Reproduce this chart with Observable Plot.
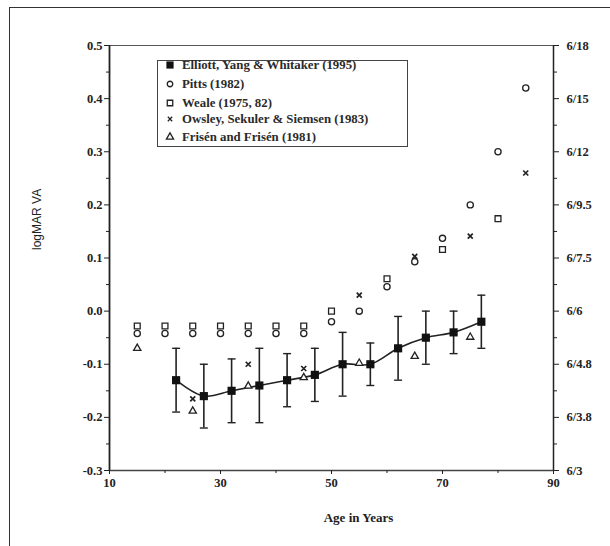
<!DOCTYPE html>
<html>
<head>
<meta charset="utf-8">
<script src="https://cdn.jsdelivr.net/npm/d3@7"></script>
<script src="https://cdn.jsdelivr.net/npm/@observablehq/plot@0.6"></script>
<style>
  html, body { margin: 0; padding: 0; background: #fff; }
  #wrap { position: relative; width: 610px; height: 546px; overflow: hidden; }
  #outer { position: absolute; left: 9px; top: 7px; width: 700px; height: 700px;
           border-left: 1.5px solid #333; border-top: 1.5px solid #333; }
  #chart { position: absolute; left: 0; top: 0; }
  #legend { position: absolute; left: 157px; top: 60px; width: 251px; height: 87px;
            border: 1.2px solid #444; box-sizing: border-box; background: #fff;
            font-family: "Liberation Serif", "DejaVu Serif", serif; font-size: 12.8px; font-weight: bold; color: #2a2a2a; }
  .row { position: absolute; left: 0; height: 16px; line-height: 16px; white-space: nowrap; }
  .row svg { position: absolute; left: 6px; top: 2px; }
  .row span { position: absolute; left: 24px; }
</style>
</head>
<body>
<div id="wrap">
  <div id="outer"></div>
  <div id="chart"></div>
  <div id="legend"></div>
</div>
<script>
// ---- data ----
const elliottAge = [22, 27, 32, 37, 42, 47, 52, 57, 62, 67, 72, 77];
const elliottVA  = [-0.13, -0.16, -0.15, -0.14, -0.13, -0.12, -0.10, -0.10, -0.07, -0.05, -0.04, -0.02];
const elliottLo  = [-0.19, -0.22, -0.21, -0.21, -0.18, -0.17, -0.16, -0.14, -0.13, -0.10, -0.08, -0.07];
const elliottHi  = [-0.07, -0.10, -0.09, -0.07, -0.08, -0.07, -0.04, -0.06, -0.01, 0.00, 0.00, 0.03];

const pittsAge = [15, 20, 25, 30, 35, 40, 45, 50, 55, 60, 65, 70, 75, 80, 85];
const pittsVA  = [-0.042, -0.042, -0.042, -0.042, -0.042, -0.042, -0.042, -0.02, 0.0, 0.046, 0.093, 0.137, 0.20, 0.30, 0.42];

const wealeAge = [15, 20, 25, 30, 35, 40, 45, 50, 60, 70, 80];
const wealeVA  = [-0.028, -0.028, -0.028, -0.028, -0.028, -0.028, -0.028, 0.0, 0.061, 0.116, 0.174];

const owsleyAge = [25, 35, 45, 55, 65, 75, 85];
const owsleyVA  = [-0.165, -0.10, -0.108, 0.03, 0.103, 0.141, 0.26];

const frisenAge = [15, 25, 35, 45, 55, 65, 75];
const frisenVA  = [-0.07, -0.188, -0.141, -0.125, -0.098, -0.085, -0.049];

const xTickLabels = [10, 30, 50, 70, 90];
const xMinorTicks = [20, 40, 60, 80];
const yTicks = [-0.3, -0.2, -0.1, 0.0, 0.1, 0.2, 0.3, 0.4, 0.5];
const yMinorTicks = [-0.25, -0.15, -0.05, 0.05, 0.15, 0.25, 0.35, 0.45];
const snellenLabels = ["6/3", "6/3.8", "6/4.8", "6/6", "6/7.5", "6/9.5", "6/12", "6/15", "6/18"];

const legendNames = [
  "Elliott, Yang & Whitaker (1995)",
  "Pitts (1982)",
  "Weale (1975, 82)",
  "Owsley, Sekuler & Siemsen (1983)",
  "Frisén and Frisén (1981)"
];
const yLabel = "logMAR VA";
const xLabel = "Age in Years";

// ---- tables ----
const elliott = elliottAge.map((a, i) => ({age: a, va: elliottVA[i], lo: elliottLo[i], hi: elliottHi[i]}));
const pitts = pittsAge.map((a, i) => ({age: a, va: pittsVA[i]}));
const weale = wealeAge.map((a, i) => ({age: a, va: wealeVA[i]}));
const owsley = owsleyAge.map((a, i) => ({age: a, va: owsleyVA[i]}));
const frisen = frisenAge.map((a, i) => ({age: a, va: frisenVA[i]}));

const capSymbol = { draw(ctx, size) { const r = Math.sqrt(size) / 2; ctx.moveTo(-r, 0); ctx.lineTo(r, 0); } };

const serif = "'Liberation Serif', 'DejaVu Serif', serif";
const ink = "#222";

const plot = Plot.plot({
  width: 610,
  height: 546,
  marginLeft: 109,
  marginRight: 57,
  marginTop: 45,
  marginBottom: 76,
  style: { background: "transparent", fontFamily: serif, fontSize: "12.5px", fontWeight: "bold", color: ink },
  x: { domain: [10, 90] },
  y: { domain: [-0.3, 0.5] },
  marks: [
    Plot.frame({ stroke: "#555", strokeWidth: 1 }),
    Plot.ruleX([10], { stroke: ink, strokeWidth: 1.8 }),
    Plot.ruleY([-0.3], { stroke: "#444", strokeWidth: 1.5 }),
    Plot.ruleX([90], { stroke: ink, strokeWidth: 1.5 }),
    // left axis
    Plot.axisY({ anchor: "left", ticks: yTicks, tickSize: 5, tickPadding: 2, tickFormat: d => d.toFixed(1), label: null, stroke: ink }),
    Plot.axisY({ anchor: "left", ticks: yMinorTicks, tickSize: 3, tickFormat: () => "", label: null, stroke: ink }),
    // right axis
    Plot.axisY({ anchor: "right", ticks: yTicks, tickSize: 5, tickPadding: 8, tickFormat: (d, i) => snellenLabels[i], label: null, stroke: ink }),
    Plot.axisY({ anchor: "right", ticks: yMinorTicks, tickSize: 3, tickFormat: () => "", label: null, stroke: ink }),
    // x axis
    Plot.axisX({ ticks: xTickLabels, tickSize: 4, tickPadding: 4, tickFormat: d => String(d), label: null, stroke: ink, letterSpacing: "2.5px" }),
    Plot.axisX({ ticks: xMinorTicks, tickSize: 3, tickFormat: () => "", label: null, stroke: ink }),
    // axis titles
    Plot.text([xLabel], { frameAnchor: "bottom", dx: 27, dy: 51, fontSize: 13, fontWeight: "bold", fontFamily: serif, fill: ink, letterSpacing: "1.6px" }),
    Plot.text([yLabel], { frameAnchor: "left", dx: -72, dy: -8, rotate: -90, fontSize: 12, fontWeight: "normal", fontFamily: "'Liberation Sans', Arial, sans-serif", fill: ink }),
    // Elliott
    Plot.ruleX(elliott, { x: "age", y1: "lo", y2: "hi", stroke: ink, strokeWidth: 1.6 }),
    Plot.dot(elliott, { x: "age", y: "lo", symbol: capSymbol, r: 4.5, stroke: ink, strokeWidth: 1.4 }),
    Plot.dot(elliott, { x: "age", y: "hi", symbol: capSymbol, r: 4.5, stroke: ink, strokeWidth: 1.4 }),
    Plot.line(elliott, { x: "age", y: "va", stroke: ink, strokeWidth: 1.6, curve: "catmull-rom" }),
    Plot.dot(elliott, { x: "age", y: "va", symbol: "square", r: 4.6, fill: "#111", stroke: "none" }),
    // Pitts
    Plot.dot(pitts, { x: "age", y: "va", symbol: "circle", r: 3.1, fill: "#fff", stroke: ink, strokeWidth: 1.3 }),
    // Weale
    Plot.dot(weale, { x: "age", y: "va", symbol: "square", r: 3.3, fill: "#fff", stroke: ink, strokeWidth: 1.3 }),
    // Owsley
    Plot.dot(owsley, { x: "age", y: "va", symbol: "times", r: 2.4, stroke: ink, strokeWidth: 1.7 }),
    // Frisen
    Plot.dot(frisen, { x: "age", y: "va", symbol: "triangle", r: 2.7, fill: "#fff", stroke: ink, strokeWidth: 1.3 })
  ]
});
document.getElementById("chart").appendChild(plot);

// legend
const legendSymbols = [
  { type: d3.symbolSquare, size: 52, fill: "#111", stroke: "none" },
  { type: d3.symbolCircle, size: 24, fill: "#fff", stroke: ink },
  { type: d3.symbolSquare, size: 30, fill: "#fff", stroke: ink },
  { type: d3.symbolTimes, size: 14, fill: "none", stroke: ink },
  { type: d3.symbolTriangle, size: 22, fill: "#fff", stroke: ink }
];
const legend = d3.select("#legend");
const rowTops = [-4, 14.5, 33.5, 50, 68];
legendNames.forEach((name, i) => {
  const row = legend.append("div").attr("class", "row").style("top", rowTops[i] + "px");
  const s = row.append("svg").attr("width", 12).attr("height", 12);
  const sym = legendSymbols[i];
  s.append("path").attr("transform", "translate(6,6)")
    .attr("d", d3.symbol(sym.type, sym.size)())
    .attr("fill", sym.fill).attr("stroke", sym.stroke).attr("stroke-width", 1.3);
  row.append("span").text(name);
});
</script>
</body>
</html>
